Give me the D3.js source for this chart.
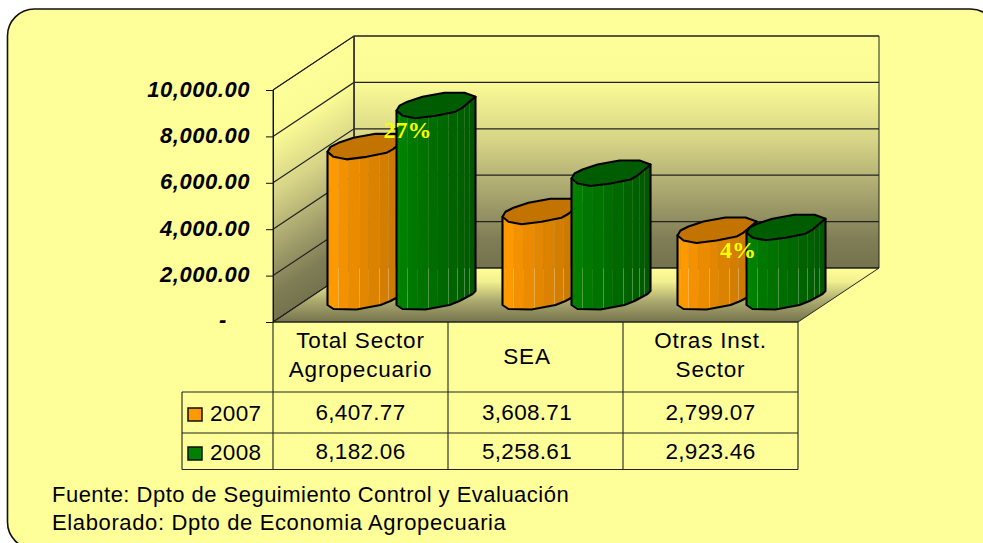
<!DOCTYPE html>
<html><head><meta charset="utf-8">
<script src="https://cdn.jsdelivr.net/npm/d3@7/dist/d3.min.js"></script>
<style>html,body{margin:0;padding:0;background:#fff}svg{display:block}
text{font-family:"Liberation Sans",Arial,sans-serif;fill:#000}</style></head>
<body><svg id="c" width="983" height="543"></svg>
<script>
const categories = [["Total Sector","Agropecuario"],["SEA"],["Otras Inst.","Sector"]];
const seriesNames = ["2007","2008"];
const values2007 = [6407.77,3608.71,2799.07];
const values2008 = [8182.06,5258.61,2923.46];
const labels2007 = ["6,407.77","3,608.71","2,799.07"];
const labels2008 = ["8,182.06","5,258.61","2,923.46"];
const tickValues = [0,2000,4000,6000,8000,10000];
const pctLabels = ["27%",null,"4%"];
const footer = ["Fuente: Dpto de Seguimiento Control y Evaluación","Elaborado: Dpto de Economia Agropecuaria"];

const svg = d3.select("#c"), defs = svg.append("defs");
const left=273,right=798,base=322,top0=90,ddx=81,ddy=54;
const x = d3.scaleBand().domain(d3.range(3)).range([left,right]);
const y = d3.scaleLinear().domain([0,10000]).range([base,top0]);

function grad(id,attrs,stops){
  const g=defs.append("linearGradient").attr("id",id);
  Object.entries(attrs).forEach(([k,v])=>g.attr(k,v));
  stops.forEach(s=>g.append("stop").attr("offset",s[0]).attr("stop-color",s[1]));
}
const wallStops=[[0,"#ffff99"],[0.2,"#fbfb96"],[0.45,"#d6d486"],[0.7,"#a3a06c"],[0.88,"#7f7d55"],[1,"#75734d"]];
grad("back",{gradientUnits:"userSpaceOnUse",x1:0,y1:36,x2:0,y2:268},wallStops);
grad("lwall",{gradientUnits:"userSpaceOnUse",x1:273,y1:90,x2:380,y2:250.7},wallStops);
grad("floor",{gradientUnits:"userSpaceOnUse",x1:0,y1:268,x2:0,y2:322},[[0,"#ffff99"],[0.25,"#f2f08f"],[0.6,"#adab70"],[1,"#75734d"]]);

// frame
svg.append("rect").attr("x",7.5).attr("y",9).attr("width",990).attr("height",540).attr("rx",27).attr("ry",27)
  .attr("fill","#ffff99").attr("stroke","#111").attr("stroke-width",1.6);

// walls
const pts=a=>a.map(p=>p.join(",")).join(" ");
const g3=svg.append("g");
g3.append("polygon").attr("points",pts([[left+ddx,y(10000)-ddy],[right+ddx,y(10000)-ddy],[right+ddx,base-ddy],[left+ddx,base-ddy]])).attr("fill","url(#back)").attr("stroke","#222").attr("stroke-width",1);
g3.append("polygon").attr("points",pts([[left,y(10000)],[left+ddx,y(10000)-ddy],[left+ddx,base-ddy],[left,base]])).attr("fill","url(#lwall)").attr("stroke","#222").attr("stroke-width",1);
g3.append("polygon").attr("points",pts([[left,base],[left+ddx,base-ddy],[right+ddx,base-ddy],[right,base]])).attr("fill","url(#floor)").attr("stroke","#222").attr("stroke-width",1);

g3.selectAll(".gb").data(tickValues).join("polyline").attr("fill","none").attr("stroke","#222").attr("stroke-width",1.2)
  .attr("points",v=>pts([[left,y(v)],[left+ddx,y(v)-ddy],[right+ddx,y(v)-ddy]]));
g3.append("line").attr("x1",left+ddx).attr("x2",left+ddx).attr("y1",y(10000)-ddy).attr("y2",base-ddy).attr("stroke","#333").attr("stroke-width",1.4);

// y axis
const axis=d3.axisLeft(y).tickValues(tickValues).tickSize(7).tickPadding(16)
  .tickFormat(v=>v===0?"-":d3.format(",.2f")(v));
const ag=svg.append("g").attr("transform",`translate(${left},0)`).call(axis);
ag.selectAll("path").attr("stroke","#111");
ag.selectAll("line").attr("stroke","#111");
ag.selectAll("text").attr("font-family","'Liberation Sans',Arial,sans-serif").attr("font-size",22).attr("font-weight","bold").attr("font-style","italic").attr("fill","#000").attr("letter-spacing","0.55px").attr("dy","0.28em");
ag.selectAll(".tick").filter(d=>d===0).select("text").attr("x",-46).attr("dy","0.2em");

// cylinders: outlines relative to the leftmost point
const capShape=[[0,0],[3,-5],[11,-9],[26,-14],[48,-18],[68,-18],[79,-14],[66,-3],[59,1],[39,5],[19,7.5],[6,5]];
const baseRim=[[0,0],[6,4],[29,4.5],[53,0],[63,-4],[76,-11],[79,-14]];
const facets=[0,3,11,21,32,41,52,61,68,73,79];
const depthShift=36, barBase=305, capLift=4.5, barW=69;
const barScale=v=>base-y(v)+capLift;
const style={ "2007":{a:"#ff9900",b:"#c27300",cap:"#c27300"}, "2008":{a:"#008000",b:"#005700",cap:"#005c00"} };
function rimY(px){
  for(let i=1;i<baseRim.length;i++){
    const p=baseRim[i-1],q=baseRim[i];
    if(px<=q[0]) return p[1]+(q[1]-p[1])*(px-p[0])/(q[0]-p[0]);
  }
  return -14;
}
function cyl(cat,ser,val,offset){
  const x0=x(cat)+x.bandwidth()/2+depthShift+offset, yb=barBase, yt=yb-barScale(val);
  const s=style[ser], g=svg.append("g");
  const col=d3.interpolateRgb(s.a,s.b);
  facets.slice(1).forEach((f,i)=>{
    const f0=facets[i], c=col(i<2?0:(f0+f)/2/79);
    g.append("polygon").attr("points",pts([[x0+f0,yt+rimY(f0)],[x0+f,yt+rimY(f)],[x0+f,yb+rimY(f)],[x0+f0,yb+rimY(f0)]]))
      .attr("fill",c).attr("stroke",c).attr("stroke-width",0.4);
  });
  [11,32,52,61,68,73].forEach(f=>{
    g.append("line").attr("x1",x0+f).attr("x2",x0+f).attr("y1",yt+rimY(f)).attr("y2",yb+rimY(f)).attr("stroke","#fff").attr("stroke-opacity",0.07);
    g.append("line").attr("x1",x0+f).attr("x2",x0+f).attr("y1",Math.max(yt+rimY(f),268)).attr("y2",yb+rimY(f)).attr("stroke","#fff").attr("stroke-opacity",0.2);
  });
  const outline=[[x0,yt],[x0,yb],...baseRim.slice(1).map(p=>[x0+p[0],yb+p[1]]),[x0+79,yt-14]];
  g.append("polygon").attr("points",pts(outline)).attr("fill","none").attr("stroke","#000").attr("stroke-width",2.1).attr("stroke-linejoin","round");
  g.append("polygon").attr("points",pts(capShape.map(p=>[x0+p[0],yt+p[1]]))).attr("fill",s.cap).attr("stroke","#000").attr("stroke-width",2.1).attr("stroke-linejoin","round");
}
d3.range(3).forEach(i=>{
  cyl(i,"2007",values2007[i],-barW);
  cyl(i,"2008",values2008[i],0);
});

// percentage labels, placed from the 2008 cylinder top
const pctDx=[-13,0,-26.5], pctDy=[27,0,25];
pctLabels.forEach((t,i)=>{
  if(!t) return;
  svg.append("text").text(t)
    .attr("x",x(i)+x.bandwidth()/2+depthShift+pctDx[i])
    .attr("y",barBase-barScale(values2008[i])+pctDy[i])
    .style("font-family","'Liberation Serif',serif").style("font-weight","bold").style("font-size","24px").style("fill","#ffff00");
});

// data table
const colX=[left,...d3.range(3).map(i=>x(i)+x.bandwidth())];
const rowY=[322,392,433,469.5], tblLeft=182;
const tb=svg.append("g").attr("stroke","#222").attr("stroke-width",1.1);
colX.forEach(cx=>tb.append("line").attr("x1",cx).attr("x2",cx).attr("y1",rowY[0]).attr("y2",rowY[3]));
tb.append("line").attr("x1",left).attr("x2",right).attr("y1",rowY[0]).attr("y2",rowY[0]);
rowY.slice(1).forEach(ry=>tb.append("line").attr("x1",tblLeft).attr("x2",right).attr("y1",ry).attr("y2",ry));
tb.append("line").attr("x1",tblLeft).attr("x2",tblLeft).attr("y1",rowY[1]).attr("y2",rowY[3]);

const fs=22.5, textNudge=[0,-8.5,0];
categories.forEach((lines,i)=>{
  const cx=(colX[i]+colX[i+1])/2+textNudge[i];
  const baselines=lines.length===2?[348,377]:[364];
  lines.forEach((t,j)=>svg.append("text").text(t).attr("x",cx).attr("y",baselines[j]).attr("text-anchor","middle").attr("font-size",fs).attr("letter-spacing","0.8px"));
  svg.append("text").text(labels2007[i]).attr("x",cx).attr("y",420).attr("text-anchor","middle").attr("font-size",fs).attr("letter-spacing","0.3px");
  svg.append("text").text(labels2008[i]).attr("x",cx).attr("y",459).attr("text-anchor","middle").attr("font-size",fs).attr("letter-spacing","0.3px");
});
seriesNames.forEach((n,i)=>{
  const ty=[421,460][i];
  svg.append("rect").attr("x",188).attr("y",ty-13).attr("width",14).attr("height",13)
    .attr("fill",style[n].a).attr("stroke","#111").attr("stroke-width",1.5);
  svg.append("text").text(n).attr("x",210).attr("y",ty).attr("font-size",fs).attr("letter-spacing","0.3px");
});

// footer
const footerSpacing=["0.48px","0.63px"];
footer.forEach((t,i)=>svg.append("text").text(t).attr("x",52).attr("y",[502,530][i]).attr("font-size",22).attr("letter-spacing",footerSpacing[i]));
</script></body></html>
